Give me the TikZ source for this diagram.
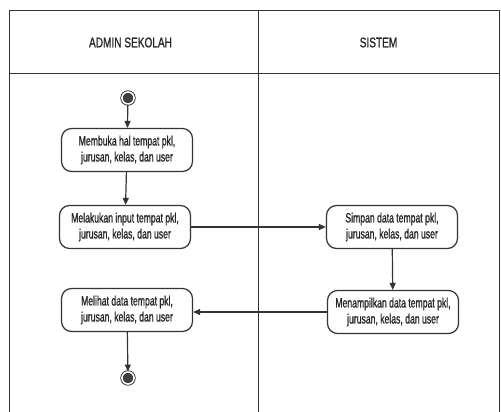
\documentclass[tikz,border=0pt]{standalone}
\usepackage{fontspec}
\setmainfont{Liberation Sans}
\newfontfamily\hurufkotak{Liberation Sans}[FakeStretch=0.64,FakeBold=1]
\newfontfamily\hurufjudul{Liberation Sans}[FakeStretch=0.72,FakeBold=1]
\usetikzlibrary{arrows.meta}
\definecolor{garis}{HTML}{333333}
\definecolor{isi}{HTML}{404040}

\begin{document}
\begin{tikzpicture}[x=1pt,y=1pt,line width=1.2pt,>={Triangle[length=7pt,width=6pt]},
  aksi/.style={draw=garis,rounded corners=10pt,align=center,minimum width=131pt,
    minimum height=43pt,inner sep=2pt,font=\hurufkotak\fontsize{13.5}{16}\selectfont,text=black!85},
  judul/.style={font=\hurufjudul\fontsize{14}{16}\selectfont,text=black!85},
  titik/.style={circle,draw=garis,line width=0.9pt,fill=isi,minimum size=12pt,inner sep=0pt,
    double=white,double distance=1.6pt}]
\useasboundingbox (0,0) rectangle (501,412);
% ---------- swimlane ----------
\draw[garis,line width=1pt] (9,0) -- (9,401) -- (499,401) -- (499,0);
\draw[garis,line width=1pt] (9,338) -- (499,338);
\draw[garis,line width=1pt] (258,0) -- (258,401);
\node[judul] (adm) at (130.5,369.5) {ADMIN SEKOLAH};
\node[judul] (sis) at (378.5,369.5) {SISTEM};
% ---------- admin sekolah ----------
\node[titik] (mulai) at (128,314) {};
\node[aksi] (buka) at (127,262) {Membuka hal tempat pkl,\\jurusan, kelas, dan user};
\node[aksi] (input) at (125,185) {Melakukan input tempat pkl,\\jurusan, kelas, dan user};
\node[aksi] (lihat) at (127,102) {Melihat data tempat pkl,\\jurusan, kelas, dan user};
\node[titik] (selesai) at (128,34) {};
% ---------- sistem ----------
\node[aksi] (simpan) at (392,185) {Simpan data tempat pkl,\\jurusan, kelas, dan user};
\node[aksi] (tampil) at (393,100) {Menampilkan data tempat pkl,\\jurusan, kelas, dan user};
% alur
\draw[->,garis] (mulai) -- (buka);
\draw[->,garis] (buka) -- (input);
\draw[->,garis] (input) -- (simpan);
\draw[->,garis] (simpan) -- (tampil);
\draw[->,garis] (tampil.west) -- (tampil.west -| lihat.east);
\draw[->,garis] (lihat) -- (selesai);
\end{tikzpicture}
\end{document}
